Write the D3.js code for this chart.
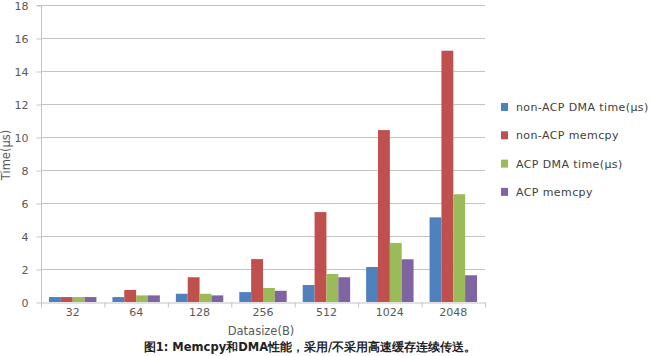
<!DOCTYPE html>
<html><head><meta charset="utf-8">
<script src="https://cdn.jsdelivr.net/npm/d3@7"></script>
<style>
body{margin:0;background:#fff;}
text{font-family:"DejaVu Sans",sans-serif;}
</style></head>
<body><svg id="c" width="650" height="356"></svg>
<script>
const categories = ["32","64","128","256","512","1024","2048"];
const seriesNames = ["non-ACP DMA time(μs)","non-ACP memcpy","ACP DMA time(μs)","ACP memcpy"];
const nonAcpDma = [0.3,0.3,0.5,0.6,1.03,2.12,5.13];
const nonAcpMemcpy = [0.3,0.73,1.5,2.6,5.45,10.42,15.23];
const acpDma = [0.3,0.4,0.5,0.85,1.7,3.58,6.53];
const acpMemcpy = [0.3,0.4,0.4,0.68,1.5,2.59,1.62];
const colors = ["#4F81BD","#C0504D","#9BBB59","#8064A2"];
const yTicks = [0,2,4,6,8,10,12,14,16,18];
const series = [nonAcpDma,nonAcpMemcpy,acpDma,acpMemcpy];

const svg = d3.select("#c");
const L=41,R=485,T=5,B=302;
const x = d3.scaleBand().domain(categories).range([L,R]).paddingInner(0).paddingOuter(0);
const inner = d3.scaleBand().domain(d3.range(4)).range([8,x.bandwidth()-8]).padding(0);
const y = d3.scaleLinear().domain([0,18]).range([B,T]);
const txt="#595959", grid="#c4c4c4";

// gridlines
svg.append("g").selectAll("line").data(yTicks.filter(d=>d>0)).join("line")
 .attr("x1",L).attr("x2",R).attr("y1",d=>y(d)+0.5).attr("y2",d=>y(d)+0.5)
 .attr("stroke",grid).attr("stroke-width",1);

// bars
series.forEach((s,si)=>{
  svg.append("g").selectAll("rect").data(s).join("rect")
   .attr("x",(d,i)=>x(categories[i])+inner(si))
   .attr("width",inner.bandwidth())
   .attr("y",d=>y(d)).attr("height",d=>B-y(d))
   .attr("fill",colors[si]);
});

// y axis
const ya = svg.append("g").attr("transform",`translate(${L+0.5},0.5)`)
 .call(d3.axisLeft(y).tickValues(yTicks).tickSize(5).tickPadding(8));
ya.select(".domain").attr("stroke",grid).attr("d",`M-5,${T}H0V${B}`);
ya.selectAll(".tick line").attr("stroke",grid);
ya.selectAll(".tick text").attr("fill",txt).style("font-size","11px").attr("font-family","DejaVu Sans");

// x axis
const xa = svg.append("g").attr("transform",`translate(0,${B+0.5})`)
 .call(d3.axisBottom(x).tickSize(0).tickPadding(6));
xa.select(".domain").attr("stroke",grid);
xa.selectAll(".tick text").attr("fill",txt).style("font-size","11px").attr("font-family","DejaVu Sans");
xa.selectAll(".sep").data(categories.concat(["end"])).join("line").attr("class","sep")
 .attr("x1",(d,i)=>L+i*x.bandwidth()+0.5).attr("x2",(d,i)=>L+i*x.bandwidth()+0.5)
 .attr("y1",0).attr("y2",5).attr("stroke",grid);

// axis titles
svg.append("text").attr("x",(L+R)/2-2).attr("y",335).attr("text-anchor","middle")
 .attr("fill",txt).style("font-size","11.5px").text("Datasize(B)");
svg.append("text").attr("transform","translate(10,155) rotate(-90)").attr("text-anchor","middle")
 .attr("fill",txt).style("font-size","11.5px").text("Time(μs)");

// legend
const lg = svg.append("g");
seriesNames.forEach((n,i)=>{
  const yy = 107 + i*28.3;
  lg.append("rect").attr("x",501).attr("y",yy-4).attr("width",7).attr("height",8).attr("fill",colors[i]);
  lg.append("text").attr("x",516).attr("y",yy+4).attr("fill","#404040").style("font-size","11px")
   .style("letter-spacing","0.4px").text(n);
});

// caption
svg.append("text").attr("x",310).attr("y",351).attr("text-anchor","middle")
 .attr("fill","#222").style("font-size","11.5px").style("font-weight","bold")
 .attr("font-family","'Noto Sans CJK SC',sans-serif")
 .text("图1: Memcpy和DMA性能，采用/不采用高速缓存连续传送。");
</script></body></html>
